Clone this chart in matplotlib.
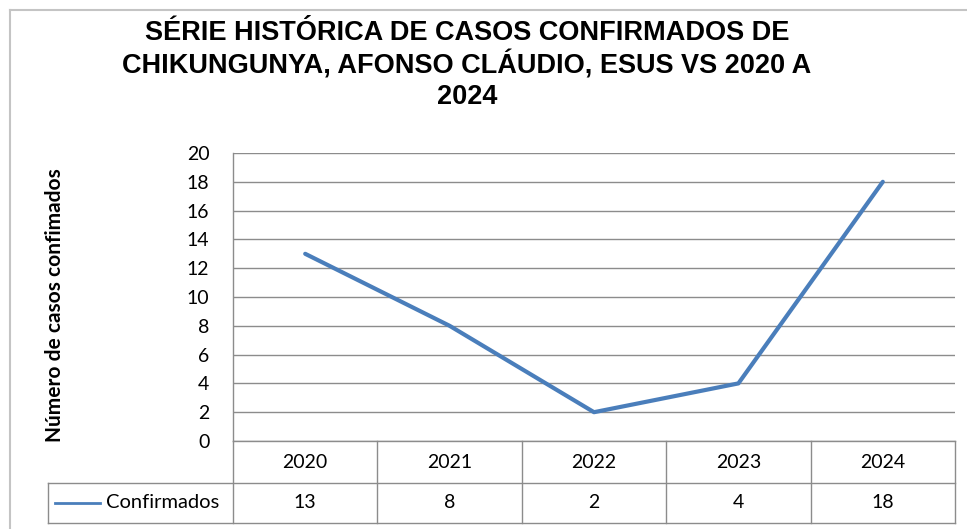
import numpy as np
import matplotlib
matplotlib.use("Agg")
import matplotlib.pyplot as plt
from matplotlib.lines import Line2D

anos = ["2020", "2021", "2022", "2023", "2024"]
casos = [13, 8, 2, 4, 18]
serie = "Confirmados"
titulo = "SÉRIE HISTÓRICA DE CASOS CONFIRMADOS DE\nCHIKUNGUNYA, AFONSO CLÁUDIO, ESUS VS 2020 A\n2024"
ylabel = "Número de casos confimados"
yticks = list(range(0, 21, 2))

azul = "#4a7ebb"
cinza = "#8c8c8c"
fonte = "Lato"
fs = 14

W, H = 967, 529
fig = plt.figure(figsize=(W / 100, H / 100), dpi=100)

# plot area in pixels
x0, x1 = 233, 955
y0, y1 = 153, 441
pw = x1 - x0
ph = y1 - y0
ax = fig.add_axes([x0 / W, 1 - y1 / H, pw / W, ph / H])

x = np.arange(len(anos))
ax.plot(x, casos, color=azul, lw=3, solid_capstyle="round", solid_joinstyle="round", zorder=3)
ax.set_xlim(-0.5, len(anos) - 0.5)
ax.set_ylim(0, 20)
ax.set_yticks(yticks)
ax.set_yticklabels([str(v) for v in yticks], fontsize=fs, family=fonte)
ax.set_xticks([])
ax.tick_params(axis="y", length=0, pad=17)
ax.grid(axis="y", color=cinza, lw=1)
ax.set_axisbelow(True)
for s in ["top", "right", "bottom"]:
    ax.spines[s].set_visible(False)
ax.spines["left"].set_color(cinza)
ax.spines["left"].set_linewidth(1)

# data table below the plot (x in data units, y in axes units)
tr = ax.get_xaxis_transform()
h_head = 42 / ph
h_row = 40 / ph
y_mid = -h_head
y_bot = -h_head - h_row
x_lab = -0.5 - 185 / pw * len(anos)
bordas = np.arange(len(anos) + 1) - 0.5
for b in bordas:
    ax.plot([b, b], [0, y_bot], transform=tr, color=cinza, lw=1, clip_on=False)
ax.plot([x_lab, x_lab], [y_mid, y_bot], transform=tr, color=cinza, lw=1, clip_on=False)
ax.plot([bordas[0], bordas[-1]], [0, 0], transform=tr, color=cinza, lw=1, clip_on=False)
ax.plot([x_lab, bordas[-1]], [y_mid, y_mid], transform=tr, color=cinza, lw=1, clip_on=False)
ax.plot([x_lab, bordas[-1]], [y_bot, y_bot], transform=tr, color=cinza, lw=1, clip_on=False)
for i, a in enumerate(anos):
    ax.text(x[i], -h_head / 2, a, transform=tr, ha="center", va="center",
            fontsize=fs, family=fonte)
    ax.text(x[i], y_mid - h_row / 2, str(casos[i]), transform=tr, ha="center", va="center",
            fontsize=fs, family=fonte)

# legend key inside the label cell
ly = y_mid - h_row / 2
ax.plot([(55 - x0) / pw, (100 - x0) / pw], [ly, ly], transform=ax.transAxes,
        color=azul, lw=2, clip_on=False)
ax.text((106 - x0) / pw, ly, serie, transform=ax.transAxes, ha="left", va="center",
        fontsize=14.5, family=fonte)

# axis title
fig.text(55 / W, 1 - 305 / H, ylabel, rotation=90, ha="center", va="center",
         fontsize=15, fontweight="bold", family=fonte)

# chart title
fig.text(467 / W, 1 - 20 / H, titulo, ha="center", va="top", fontsize=19.5,
         fontweight="bold", family="Liberation Sans", linespacing=1.2)

# outer frame (cut off at right and bottom)
fig.add_artist(Line2D([10 / W, 10 / W], [0, 1 - 10 / H], color="#c4c4c4", lw=1.5))
fig.add_artist(Line2D([10 / W, 1], [1 - 10 / H, 1 - 10 / H], color="#c4c4c4", lw=1.5))

fig.savefig("out.png", dpi=100)
